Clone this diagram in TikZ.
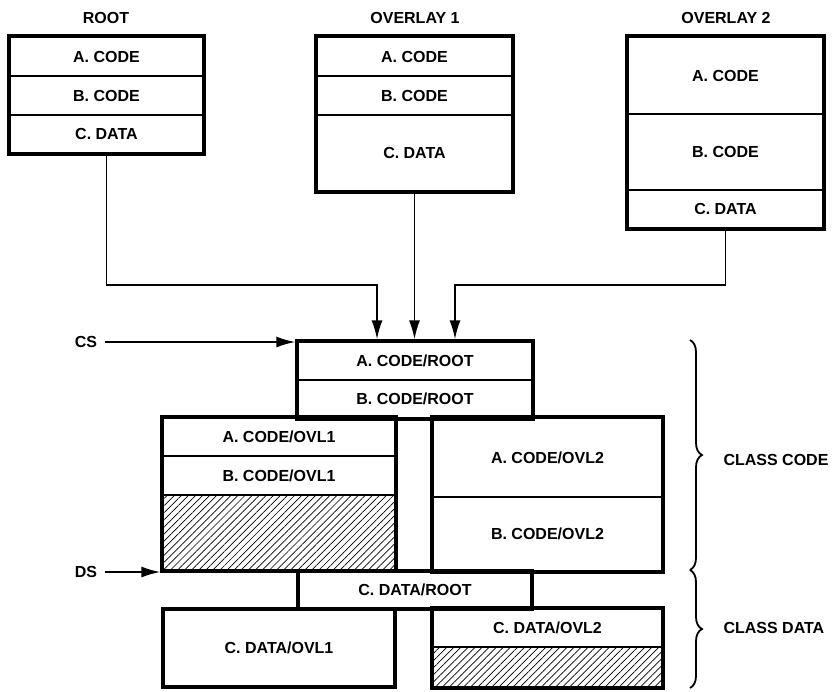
\documentclass[tikz,border=0pt]{standalone}
\usepackage{fontspec}
\setmainfont{Liberation Sans}
\usetikzlibrary{arrows.meta,patterns.meta,decorations.pathreplacing,fit}
% [opts]{name}{x1}{y1}{x2}{y2}{text}
\newcommand\cellat[7][]{\node[cell,#1,minimum width={(#5-#3)*1pt},minimum height={(#6-#4)*1pt}] (#2) at ({(#3+#5)/2},{(#4+#6)/2}) {#7};}
\begin{document}
\begin{tikzpicture}[x=1pt,y=-1pt,
  lbl/.style={font=\fontsize{16}{16}\selectfont\bfseries},
  cell/.style={draw, line width=1.3pt, inner sep=0pt, lbl},
  outer/.style={draw, line width=4pt, inner sep=0pt},
  conn/.style={line width=1.8pt},
  arr/.style={conn,-{Latex[length=19pt,width=11pt]}},
  hatch/.style={pattern={Lines[angle=45,distance=5pt,line width=0.7pt]}},
  brc/.style={line width=1.8pt, decorate, decoration={brace,amplitude=12pt}},
]
\useasboundingbox (0,0) rectangle (834,691);

% titles
\node[lbl] (troot) at (106,18) {ROOT};
\node[lbl] (tov1) at (415,18) {OVERLAY 1};
\node[lbl] (tov2) at (726,18) {OVERLAY 2};

% ROOT
\cellat{rA}{10}{37}{203}{76}{A. CODE}
\cellat{rB}{10}{76}{203}{115}{B. CODE}
\cellat{rC}{10}{115}{203}{153}{C. DATA}
\node[outer, fit=(rA)(rC)] (root) {};

% OVERLAY 1
\cellat{oA}{317}{37}{512}{76}{A. CODE}
\cellat{oB}{317}{76}{512}{115}{B. CODE}
\cellat{oC}{317}{115}{512}{191}{C. DATA}
\node[outer, fit=(oA)(oC)] (ov1) {};

% OVERLAY 2
\cellat{pA}{628}{37}{823}{114}{A. CODE}
\cellat{pB}{628}{114}{823}{190}{B. CODE}
\cellat{pC}{628}{190}{823}{228}{C. DATA}
\node[outer, fit=(pA)(pC)] (ov2) {};

% CS box
\cellat{csA}{298}{342}{532}{380}{A. CODE/ROOT}
\cellat{csB}{298}{380}{532}{418}{B. CODE/ROOT}
\node[outer, fit=(csA)(csB)] (cs) {};

% lower left code
\cellat{lA}{163}{418}{395}{456}{A. CODE/OVL1}
\cellat{lB}{163}{456}{395}{495}{B. CODE/OVL1}
\cellat[hatch]{lH}{163}{495}{395}{571}{}
\node[outer, fit=(lA)(lH)] (lowL) {};

% lower right code
\cellat{rrA}{433}{418}{662}{497}{A. CODE/OVL2}
\cellat{rrB}{433}{497}{662}{571}{B. CODE/OVL2}
\node[outer, fit=(rrA)(rrB)] (lowR) {};

% C. DATA/ROOT
\cellat[line width=4pt]{cdr}{298}{571}{532}{609}{C. DATA/ROOT}

% data boxes
\cellat[line width=4pt]{dL}{163}{609}{395}{687}{C. DATA/OVL1}
\cellat{dRA}{433}{609}{662}{647}{C. DATA/OVL2}
\cellat[hatch]{dRH}{433}{647}{662}{687}{}
\node[outer, fit=(dRA)(dRH)] (dR) {};

% connectors
\coordinate (j1) at (377,285);
\coordinate (j3) at (455,285);
\draw[arr] (root.south) |- (j1) -- (j1 |- cs.north);
\draw[arr] (ov1.south) -- (ov1.south |- cs.north);
\draw[arr] (ov2.south) |- (j3) -- (j3 |- cs.north);

% CS / DS
\node[lbl] (cslbl) at (86,342) {CS};
\node[lbl] (dslbl) at (86,572) {DS};
\draw[arr] ([xshift=4pt]cslbl.east) -- (cslbl.east -| cs.west);
\draw[arr] ([xshift=4pt]dslbl.east) -- (dslbl.east -| lowL.west);

% braces
\draw[brc] (690,340) -- (690,570);
\draw[brc] (690,570) -- (690,688);
\node[lbl, anchor=west] (ccode) at (720,460) {CLASS CODE};
\node[lbl, anchor=west] (cdata) at (720,628) {CLASS DATA};
\end{tikzpicture}
\end{document}
